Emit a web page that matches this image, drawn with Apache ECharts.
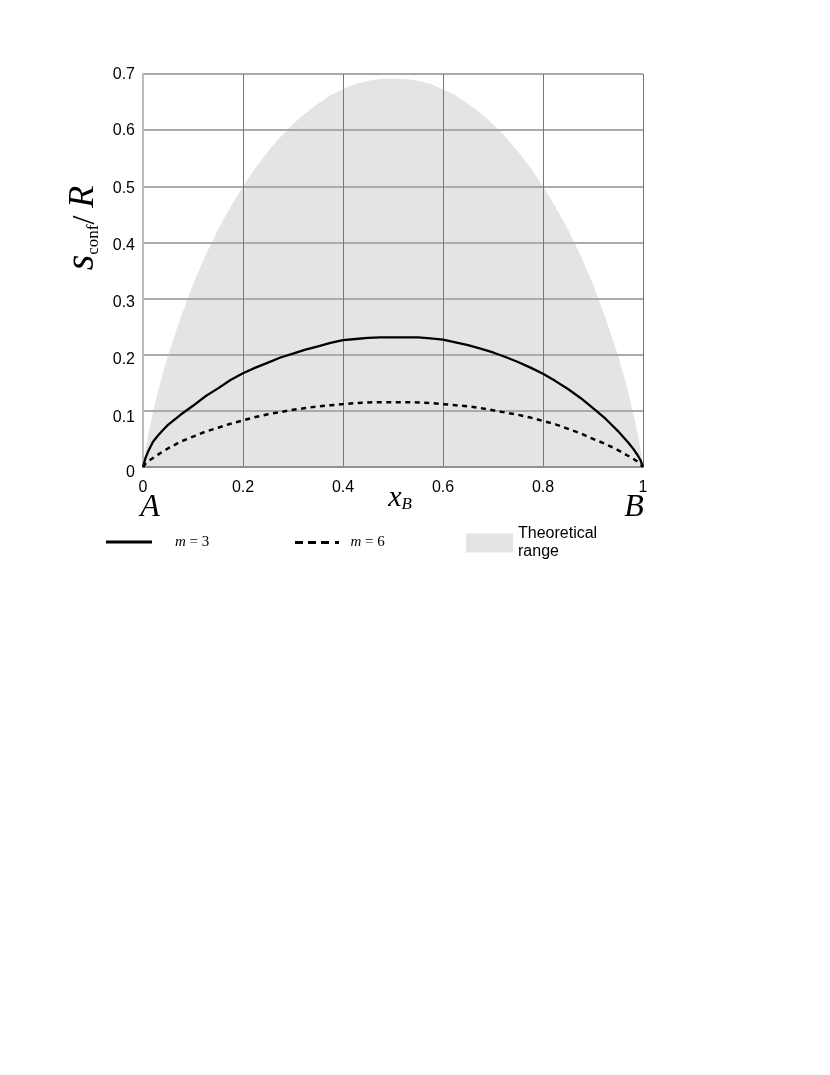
<!DOCTYPE html>
<html>
<head>
<meta charset="utf-8">
<script src="https://cdn.jsdelivr.net/npm/echarts@6/dist/echarts.min.js"></script>
<style>
html, body { margin: 0; padding: 0; background: #fff; }
#main { width: 830px; height: 1075px; }
</style>
</head>
<body>
<div id="main"></div>
<script>
// x_B positions shared by all three curves
var xB = [0, 0.005, 0.01, 0.02, 0.03, 0.04,
          0.05, 0.075, 0.1, 0.125, 0.15, 0.175, 0.2, 0.225, 0.25, 0.275, 0.3, 0.325, 0.35, 0.375,
          0.4, 0.425, 0.45, 0.475, 0.5, 0.525, 0.55, 0.575, 0.6, 0.625, 0.65, 0.675, 0.7, 0.725,
          0.75, 0.775, 0.8, 0.825, 0.85, 0.875, 0.9, 0.925, 0.95,
          0.96, 0.97, 0.98, 0.99, 0.995, 1];
// grey theoretical range (upper edge)
var rangeTop = [0, 0.031, 0.056, 0.098, 0.135, 0.168,
                0.199, 0.265, 0.325, 0.377, 0.423, 0.463, 0.500, 0.533, 0.562, 0.588, 0.611, 0.630, 0.647, 0.662,
                0.673, 0.682, 0.688, 0.691, 0.692, 0.691, 0.688, 0.682, 0.673, 0.662, 0.647, 0.630, 0.611, 0.588,
                0.562, 0.533, 0.500, 0.463, 0.423, 0.377, 0.325, 0.265, 0.199,
                0.168, 0.135, 0.098, 0.056, 0.031, 0];
// m = 3 (solid)
var m3 = [0, 0.016, 0.027, 0.045, 0.056, 0.066,
          0.075, 0.093, 0.109, 0.126, 0.140, 0.155, 0.167, 0.177, 0.186, 0.195, 0.202, 0.209, 0.215, 0.221,
          0.226, 0.228, 0.230, 0.231, 0.231, 0.231, 0.231, 0.229, 0.227, 0.222, 0.217, 0.211, 0.204, 0.196,
          0.187, 0.177, 0.166, 0.153, 0.139, 0.123, 0.105, 0.086, 0.064,
          0.054, 0.044, 0.033, 0.020, 0.012, 0];
// m = 6 (dashed)
var m6 = [0, 0.006, 0.010, 0.016, 0.022, 0.028,
          0.033, 0.045, 0.054, 0.063, 0.070, 0.077, 0.083, 0.089, 0.094, 0.098, 0.102, 0.105, 0.108, 0.110,
          0.112, 0.114, 0.115, 0.1155, 0.1155, 0.1155, 0.115, 0.114, 0.112, 0.110, 0.108, 0.105, 0.101, 0.097,
          0.093, 0.088, 0.082, 0.076, 0.068, 0.060, 0.050, 0.041, 0.030,
          0.025, 0.020, 0.015, 0.009, 0.005, 0];
var seriesNames = ['m = 3', 'm = 6', 'Theoretical range'];
// y tick labels sit a little lower towards the bottom of the axis
var yLabelShift = [6, 6.5, 5, 4, 3, 2, 0.5, 1];

function pairs(ys) {
    var res = [];
    for (var i = 0; i < xB.length; i++) {
        res.push([xB[i], ys[i]]);
    }
    return res;
}

var sans = '"Liberation Sans", Arial, sans-serif';
var serif = '"Liberation Serif", "Times New Roman", serif';

var yRich = {};
for (var k = 0; k < yLabelShift.length; k++) {
    yRich['p' + k] = { padding: [yLabelShift[k] * 2, 0, 0, 0], fontSize: 16, fontFamily: sans, color: '#000' };
}

var mRich = {
    m: { fontFamily: serif, fontStyle: 'italic', fontSize: 15, color: '#000' },
    t: { fontFamily: serif, fontSize: 15, color: '#000' }
};

var chart = echarts.init(document.getElementById('main'));

var option = {
    backgroundColor: '#fff',
    animation: false,
    grid: { left: 143, right: 187, top: 74, bottom: 608 },
    xAxis: {
        type: 'value',
        min: 0,
        max: 1,
        interval: 0.2,
        z: 3,
        axisLine: { show: true, lineStyle: { color: '#888', width: 1.5 } },
        axisTick: { show: false },
        axisLabel: {
            margin: 13,
            fontSize: 16,
            fontFamily: sans,
            color: '#000',
            formatter: function (v) {
                if (v === 0) return '0';
                if (v === 1) return '1';
                return v.toFixed(1);
            }
        },
        splitLine: { show: true, lineStyle: { color: '#777', width: 1 } }
    },
    yAxis: {
        type: 'value',
        min: 0,
        max: 0.7,
        interval: 0.1,
        z: 3,
        axisLine: { show: true, lineStyle: { color: '#bbb', width: 2 } },
        axisTick: { show: false },
        axisLabel: {
            margin: 8,
            formatter: function (v) {
                var i = Math.round(v * 10);
                var s = i === 0 ? '0' : v.toFixed(1);
                return '{p' + i + '|' + s + '}';
            },
            rich: yRich
        },
        splitLine: { show: true, lineStyle: { color: '#aaa', width: 2 } }
    },
    legend: [{
        data: [{ name: seriesNames[0], icon: 'rect' }],
        left: 106, top: 534.5, padding: 0,
        itemWidth: 46, itemHeight: 3,
        selectedMode: false,
        itemStyle: { color: '#000', borderWidth: 0 },
        lineStyle: { width: 0 },
        formatter: function () { return '{m|m}{t| = 3}'; },
        textStyle: { padding: [0, 0, 0, 18], rich: mRich }
    }, {
        data: [{ name: seriesNames[1], icon: 'path://M0,0h8v3h-8z M13,0h8v3h-8z M26,0h8v3h-8z M40,0h4v3h-4z' }],
        left: 295, top: 535, padding: 0,
        itemWidth: 47, itemHeight: 3,
        selectedMode: false,
        itemStyle: { color: '#000', borderWidth: 0 },
        lineStyle: { width: 0 },
        formatter: function () { return '{m|m}{t| = 6}'; },
        textStyle: { padding: [0, 0, 0, 5], rich: mRich }
    }, {
        data: [{ name: seriesNames[2], icon: 'rect' }],
        left: 466, top: 523, padding: 0,
        itemWidth: 47, itemHeight: 19,
        selectedMode: false,
        itemStyle: { borderWidth: 0 },
        formatter: function () { return 'Theoretical\nrange'; },
        textStyle: {
            fontFamily: sans, fontSize: 16, color: '#000', lineHeight: 18,
            padding: [0, 0, 4, 0]
        }
    }],
    graphic: [{
        type: 'text',
        x: 83, y: 228,
        rotation: Math.PI / 2,
        style: {
            text: '{s|s}{sub|conf}{sl|/ }{R|R}',
            align: 'center',
            verticalAlign: 'middle',
            rich: {
                s: { fontFamily: serif, fontStyle: 'italic', fontSize: 40, lineHeight: 38, verticalAlign: 'bottom', fill: '#000' },
                sub: { fontFamily: serif, fontSize: 17, lineHeight: 34, verticalAlign: 'bottom', fill: '#000' },
                sl: { fontFamily: serif, fontSize: 32, lineHeight: 37, verticalAlign: 'bottom', fill: '#000' },
                R: { fontFamily: serif, fontStyle: 'italic', fontSize: 36, lineHeight: 38, verticalAlign: 'bottom', fill: '#000' }
            }
        }
    }, {
        type: 'text',
        x: 400, y: 498,
        style: {
            text: '{x|x}{b|B}',
            align: 'center',
            verticalAlign: 'middle',
            rich: {
                x: { fontFamily: serif, fontStyle: 'italic', fontSize: 30, lineHeight: 30, verticalAlign: 'bottom', fill: '#000' },
                b: { fontFamily: serif, fontStyle: 'italic', fontSize: 17, lineHeight: 6, verticalAlign: 'bottom', fill: '#000' }
            }
        }
    }, {
        type: 'text',
        x: 150, y: 508,
        style: { text: 'A', font: 'italic 32px ' + serif, align: 'center', verticalAlign: 'middle', fill: '#000' }
    }, {
        type: 'text',
        x: 634, y: 508,
        style: { text: 'B', font: 'italic 32px ' + serif, align: 'center', verticalAlign: 'middle', fill: '#000' }
    }],
    series: [{
        name: seriesNames[2],
        type: 'line',
        z: 1,
        symbol: 'none',
        data: pairs(rangeTop),
        itemStyle: { color: '#e4e4e4' },
        lineStyle: { width: 0, color: '#e4e4e4' },
        areaStyle: { color: '#e4e4e4', opacity: 1 }
    }, {
        name: seriesNames[0],
        type: 'line',
        z: 5,
        symbol: 'none',
        data: pairs(m3),
        itemStyle: { color: '#000' },
        lineStyle: { color: '#000', width: 2.3 }
    }, {
        name: seriesNames[1],
        type: 'line',
        z: 5,
        symbol: 'none',
        data: pairs(m6),
        itemStyle: { color: '#000' },
        lineStyle: { color: '#000', width: 2.5, type: [5, 4.5] }
    }]
};

chart.setOption(option);
</script>
</body>
</html>
